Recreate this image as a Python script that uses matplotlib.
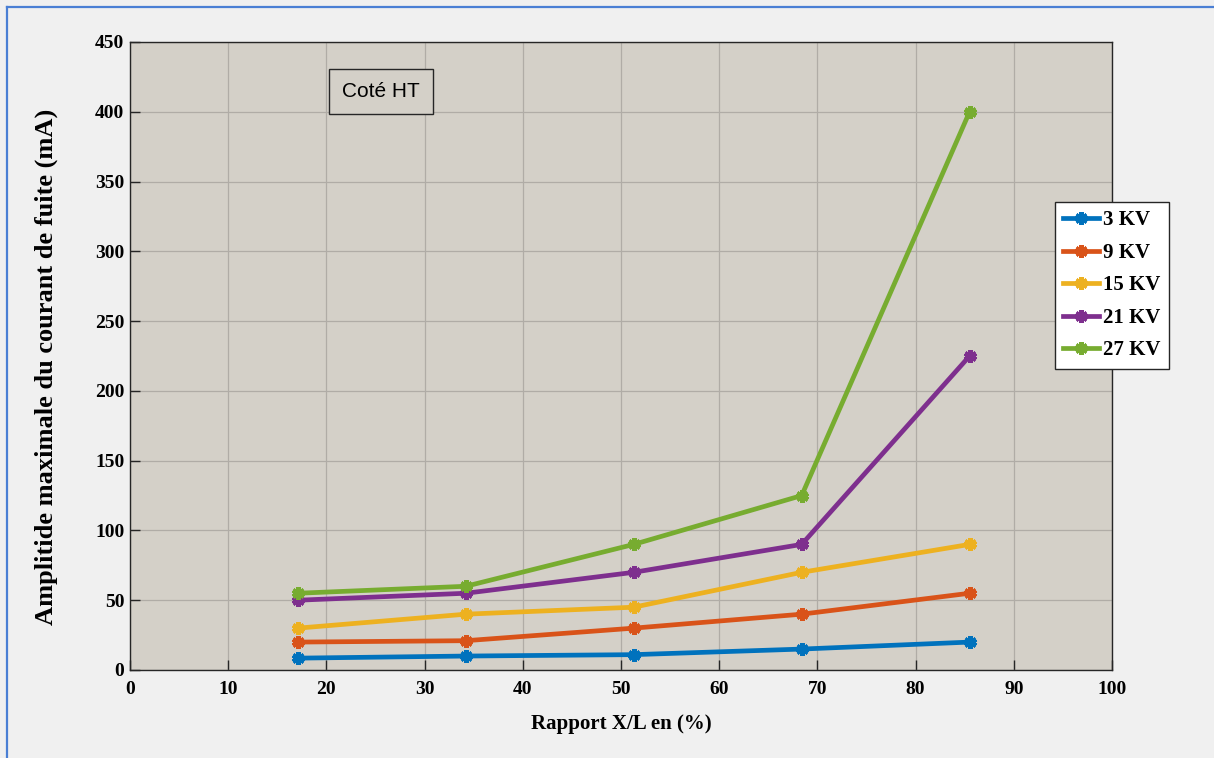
import matplotlib
matplotlib.use("Agg")
import matplotlib.pyplot as plt
from matplotlib.lines import Line2D

x_ratio = [17.1, 34.2, 51.3, 68.4, 85.5]
kv_3 = [8.5, 10, 11, 15, 20]
kv_9 = [20, 21, 30, 40, 55]
kv_15 = [30, 40, 45, 70, 90]
kv_21 = [50, 55, 70, 90, 225]
kv_27 = [55, 60, 90, 125, 400]
series_labels = ["3 KV", "9 KV", "15 KV", "21 KV", "27 KV"]
colors = ["#0072BD", "#D95319", "#EDB120", "#7E2F8E", "#77AC30"]

W, H = 1214, 758
fig = plt.figure(figsize=(W / 100, H / 100), dpi=100, facecolor="#f0f0f0")
# window frame lines (top and left only)
fig.lines.append(Line2D([7 / W, 1], [1 - 7 / H, 1 - 7 / H], transform=fig.transFigure,
                        color="#4a7fd4", linewidth=1.6))
fig.lines.append(Line2D([7 / W, 7 / W], [0, 1 - 7 / H], transform=fig.transFigure,
                        color="#4a7fd4", linewidth=1.6))

ax = fig.add_axes([130 / W, 1 - 670 / H, (1112 - 130) / W, (670 - 42) / H])
ax.set_facecolor("#d4d0c8")

serif = ["Liberation Serif", "DejaVu Serif"]
for ys, lab, c in zip([kv_3, kv_9, kv_15, kv_21, kv_27], series_labels, colors):
    ax.plot(x_ratio, ys, color=c, linewidth=3.4, marker=(6, 2, 0), markersize=9,
            markeredgewidth=3.4, markeredgecolor=c, label=lab)

ax.set_xlim(0, 100)
ax.set_ylim(0, 450)
ax.set_xticks(range(0, 101, 10))
ax.set_yticks(range(0, 451, 50))
ax.grid(True, color="#b0aca6", linewidth=0.9)
ax.set_axisbelow(True)
ax.tick_params(direction="in", length=7, width=1, colors="#262626", labelsize=14)
ax.tick_params(axis="x", pad=8)
ax.tick_params(axis="y", pad=4)
for lab in ax.get_xticklabels() + ax.get_yticklabels():
    lab.set_fontfamily(serif)
    lab.set_fontweight("bold")
    lab.set_color("black")
for s in ax.spines.values():
    s.set_color("#262626")
    s.set_linewidth(1)

ax.set_xlabel("Rapport X/L en (%)", fontsize=15, fontweight="bold", family=serif)
ax.xaxis.set_label_coords(0.5, (670 - 714) / 628)
ax.set_ylabel("Amplitide maximale du courant de fuite (mA)", fontsize=19, fontweight="bold",
              family=serif)
ax.yaxis.set_label_coords((58 - 130) / 982, (670 - 367) / 628)

ax.text((381 - 130) / 982, (670 - 91.5) / 628, "Coté HT", transform=ax.transAxes, ha="center", va="center",
        fontsize=15, family=["Liberation Sans", "DejaVu Sans"],
        bbox=dict(boxstyle="square,pad=0.62", facecolor="#d4d0c8", edgecolor="#262626", linewidth=1))

leg = ax.legend(loc="upper left", bbox_to_anchor=(1055 / W, 1 - 202 / H), bbox_transform=fig.transFigure,
                prop=dict(family=serif, weight="bold", size=15), frameon=True, fancybox=False,
                edgecolor="#262626", facecolor="white", framealpha=1, handlelength=1.7,
                handletextpad=0.2, labelspacing=0.6, borderpad=0.4, borderaxespad=0)
leg.get_frame().set_linewidth(1)

fig.savefig("out.png", dpi=100, facecolor=fig.get_facecolor())
